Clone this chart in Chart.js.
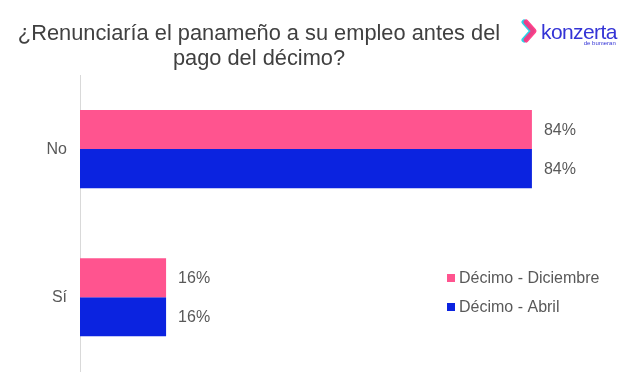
<!DOCTYPE html>
<html>
<head>
<meta charset="utf-8">
<script src="https://cdn.jsdelivr.net/npm/chart.js@4.4.0/dist/chart.umd.min.js"></script>
<style>
  html, body { margin: 0; padding: 0; background: #fff; }
  #wrap { position: relative; width: 629px; height: 376px; overflow: hidden; font-family: "Liberation Sans", Arial, sans-serif; }
  #title { position: absolute; left: 0; top: 20px; width: 518px; text-align: center; font-size: 21.8px; line-height: 25px; color: #404040; }
  #logo { position: absolute; left: 541px; top: 21px; color: #3434d6; font-size: 21px; line-height: 21px; letter-spacing: -0.6px; }
  #logo small { position: absolute; right: 1px; top: 19px; font-size: 6px; line-height: 6px; letter-spacing: 0; white-space: nowrap; }
  #chev { position: absolute; left: 521px; top: 18px; }
  canvas { position: absolute; left: 0; top: 0; }
</style>
</head>
<body>
<div id="wrap">
  <canvas id="bar1" width="629" height="394"></canvas>
  <div id="title">¿Renunciaría el panameño a su empleo antes del<br>pago del décimo?</div>
  <svg id="chev" width="18" height="26" viewBox="0 0 18 26">
    <polyline points="4,4 12,13 4,22" fill="none" stroke="#27d3e8" stroke-width="5" stroke-linejoin="round" stroke-linecap="round" transform="translate(-1,0)"/>
    <polyline points="4,4 12,13 4,22" fill="none" stroke="#ff2f7d" stroke-width="5" stroke-linejoin="round" stroke-linecap="round" transform="translate(1,0)" opacity="0.9"/>
  </svg>
  <div id="logo">konzerta<small>de bumeran</small></div>
</div>
<script>
var categorias = ['No', 'Sí'];
var series = ['Décimo - Diciembre', 'Décimo - Abril'];
var diciembre = [0.84, 0.16];
var abril = [0.84, 0.16];
var colores = ['#ff548f', '#0b23e0'];

// etiquetas de valor al final de cada barra + leyenda dentro del area
var etiquetas = {
  id: 'etiquetas',
  afterDatasetsDraw: function (chart) {
    var ctx = chart.ctx;
    ctx.save();
    ctx.font = '16px "Liberation Sans", Arial, sans-serif';
    ctx.fillStyle = '#595959';
    ctx.textBaseline = 'middle';
    ctx.textAlign = 'left';
    chart.data.datasets.forEach(function (ds, i) {
      chart.getDatasetMeta(i).data.forEach(function (bar, j) {
        ctx.fillText(Math.round(ds.data[j] * 100) + '%', bar.x + 12, bar.y + 1);
      });
    });
    // leyenda
    var lx = 447, ly = 278;
    series.forEach(function (s, i) {
      ctx.fillStyle = colores[i];
      ctx.fillRect(lx, ly + i * 29 - 4, 8, 8);
      ctx.fillStyle = '#595959';
      ctx.fillText(s, lx + 12, ly + i * 29 + 1);
    });
    ctx.restore();
  }
};

new Chart(document.getElementById('bar1'), {
  type: 'bar',
  data: {
    labels: categorias,
    datasets: [
      { label: series[0], data: diciembre, backgroundColor: colores[0], categoryPercentage: 0.527, barPercentage: 1 },
      { label: series[1], data: abril, backgroundColor: colores[1], categoryPercentage: 0.527, barPercentage: 1 }
    ]
  },
  options: {
    indexAxis: 'y',
    responsive: false,
    animation: false,
    layout: { padding: { top: 75, right: 11, bottom: 5, left: 0 } },
    plugins: { legend: { display: false }, tooltip: { enabled: false } },
    scales: {
      x: { display: false, min: 0, max: 1 },
      y: {
        grid: { display: false, drawTicks: false },
        border: { display: true, color: '#d9d9d9', width: 1 },
        ticks: { color: '#595959', padding: 13, font: { family: '"Liberation Sans", Arial, sans-serif', size: 16 } },
        afterFit: function (s) { s.width = 80; }
      }
    }
  },
  plugins: [etiquetas]
});
</script>
</body>
</html>
